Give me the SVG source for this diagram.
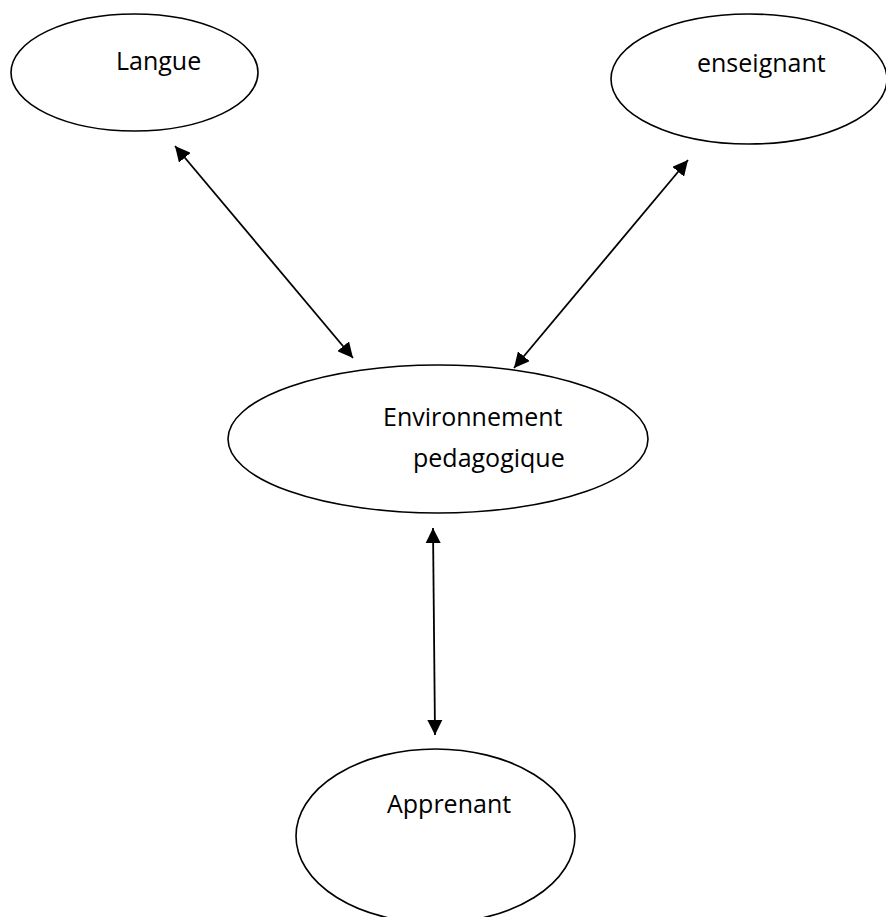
<svg xmlns="http://www.w3.org/2000/svg" width="886" height="917" viewBox="0 0 886 917">
<style>
.node ellipse{fill:#fff;stroke:#000;stroke-width:1.6}
.node text{font-family:"Open Sans","Noto Sans",sans-serif;font-size:25px;fill:#000}
.conn line{stroke:#000;stroke-width:1.8;marker-start:url(#ah);marker-end:url(#ah)}
</style>
<defs>
<marker id="ah" viewBox="0 0 10 10" refX="10" refY="5" markerWidth="8.5" markerHeight="8.5" markerUnits="strokeWidth" orient="auto-start-reverse">
<path d="M0,0 L10,5 L0,10 Z" fill="#000"/>
</marker>
</defs>
<rect width="886" height="917" fill="#fff"/>
<g id="connectors" class="conn">
<line x1="175" y1="146" x2="353" y2="358"/>
<line x1="688" y1="160" x2="514" y2="368"/>
<line x1="433" y1="528" x2="435" y2="735"/>
</g>
<g id="node-langue" class="node">
<ellipse cx="134.5" cy="72.5" rx="123.5" ry="58.5"/>
<text x="116" y="70">Langue</text>
</g>
<g id="node-enseignant" class="node">
<ellipse cx="749" cy="79" rx="138" ry="65"/>
<text x="697" y="72">enseignant</text>
</g>
<g id="node-environnement" class="node">
<ellipse cx="438" cy="439" rx="210" ry="74"/>
<text x="383" y="426">Environnement</text>
<text x="413" y="467">pedagogique</text>
</g>
<g id="node-apprenant" class="node">
<ellipse cx="435.5" cy="836" rx="139.5" ry="87"/>
<text x="387" y="813">Apprenant</text>
</g>
</svg>
